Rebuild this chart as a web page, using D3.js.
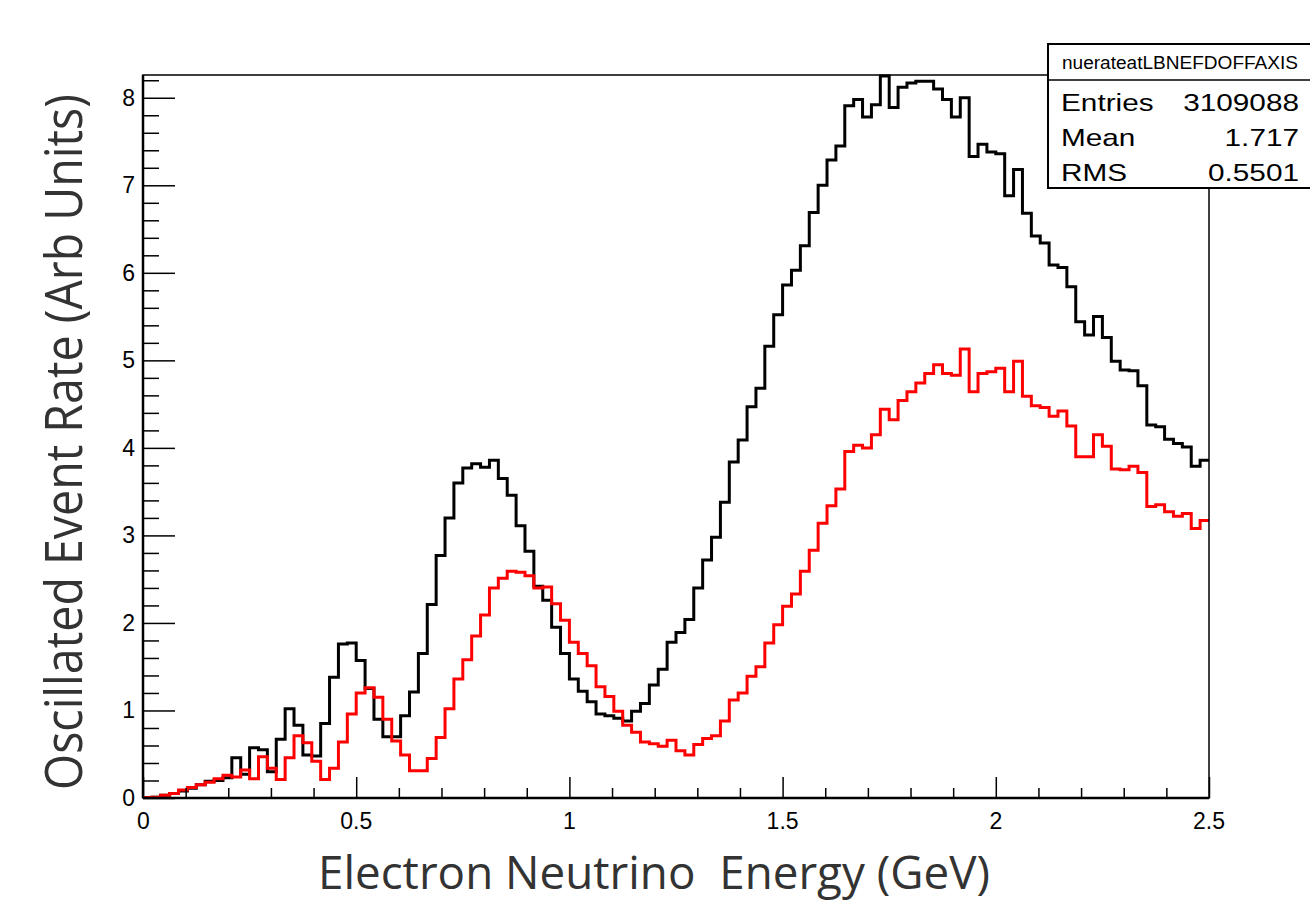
<!DOCTYPE html>
<html>
<head>
<meta charset="utf-8">
<script src="https://cdn.jsdelivr.net/npm/d3@7"></script>
<style>
  html, body { margin: 0; padding: 0; background: #fff; }
  svg { display: block; }
</style>
</head>
<body>
<svg id="chart" width="1310" height="905"></svg>
<script>
// ---- data (120 bins, 0 - 2.5 GeV) ----
const xMin = 0, xMax = 2.5, nBins = 120;
const blackValues = [
  0.005,0.01,0.03,0.05,0.08,0.11,0.15,0.19,0.20,0.23,
  0.46,0.27,0.575,0.55,0.30,0.67,1.02,0.83,0.49,0.48,
  0.85,1.38,1.76,1.77,1.57,1.25,0.90,0.70,0.70,0.94,
  1.21,1.65,2.21,2.77,3.20,3.60,3.77,3.82,3.78,3.86,
  3.65,3.46,3.11,2.82,2.42,2.26,1.95,1.65,1.36,1.22,
  1.10,0.96,0.94,0.91,0.88,0.99,1.08,1.29,1.47,1.78,
  1.89,2.04,2.40,2.72,2.98,3.38,3.84,4.09,4.47,4.68,
  5.16,5.52,5.86,6.03,6.31,6.69,7.00,7.29,7.45,7.91,
  7.98,7.78,7.92,8.25,7.89,8.12,8.17,8.19,8.19,8.10,
  7.98,7.78,8.00,7.33,7.47,7.38,7.36,6.88,7.18,6.68,
  6.42,6.34,6.09,6.06,5.84,5.44,5.29,5.50,5.26,4.99,
  4.89,4.88,4.71,4.26,4.24,4.10,4.05,4.01,3.79,3.86
];
const redValues = [
  0.005,0.01,0.03,0.05,0.09,0.12,0.15,0.18,0.22,0.26,
  0.24,0.32,0.22,0.47,0.34,0.21,0.46,0.71,0.63,0.42,
  0.21,0.34,0.64,0.96,1.20,1.26,1.15,0.90,0.65,0.49,
  0.31,0.31,0.45,0.69,1.02,1.36,1.58,1.85,2.09,2.40,
  2.51,2.59,2.58,2.54,2.40,2.41,2.22,2.03,1.78,1.65,
  1.51,1.27,1.16,0.99,0.83,0.75,0.64,0.62,0.59,0.66,
  0.54,0.49,0.61,0.68,0.71,0.88,1.12,1.20,1.39,1.50,
  1.77,1.98,2.19,2.33,2.59,2.83,3.14,3.34,3.53,3.96,
  4.03,4.00,4.15,4.44,4.32,4.54,4.64,4.74,4.85,4.95,
  4.85,4.83,5.13,4.64,4.85,4.87,4.91,4.64,4.99,4.59,
  4.48,4.46,4.36,4.42,4.25,3.90,3.90,4.15,4.02,3.76,
  3.75,3.79,3.72,3.33,3.35,3.27,3.22,3.25,3.08,3.17
];
const xTickValues = [0, 0.5, 1, 1.5, 2, 2.5];
const xTickLabels = ["0", "0.5", "1", "1.5", "2", "2.5"];
const yTickValues = [0, 1, 2, 3, 4, 5, 6, 7, 8];
const yTickLabels = ["0", "1", "2", "3", "4", "5", "6", "7", "8"];
const statsTitle = "nuerateatLBNEFDOFFAXIS";
const statsNames = ["Entries", "Mean", "RMS"];
const statsValues = ["3109088", "1.717", "0.5501"];
const xTitle = "Electron Neutrino  Energy (GeV)";
const yTitle = "Oscillated Event Rate (Arb Units)";

// ---- layout ----
const plotLeft = 143, plotRight = 1209, plotTop = 75, plotBottom = 798;
const yMaxDomain = 8.26;

const svg = d3.select("#chart");
const x = d3.scaleLinear().domain([xMin, xMax]).range([plotLeft, plotRight]);
const y = d3.scaleLinear().domain([0, yMaxDomain]).range([plotBottom, plotTop]);
const binW = (xMax - xMin) / nBins;

function histPoints(vals) {
  const pts = vals.map((v, i) => [xMin + i * binW, v]);
  pts.push([xMax, vals[vals.length - 1]]);
  return pts;
}
const line = d3.line().x(d => x(d[0])).y(d => y(d[1])).curve(d3.curveStepAfter);

// histograms
svg.append("path").datum(histPoints(blackValues))
  .attr("d", line).attr("fill", "none").attr("stroke", "#000")
  .attr("stroke-width", 3).attr("stroke-linejoin", "miter");
svg.append("path").datum(histPoints(redValues))
  .attr("d", line).attr("fill", "none").attr("stroke", "#ff0000")
  .attr("stroke-width", 3).attr("stroke-linejoin", "miter");

// frame
svg.append("rect").attr("x", plotLeft).attr("y", plotTop)
  .attr("width", plotRight - plotLeft).attr("height", plotBottom - plotTop)
  .attr("fill", "none").attr("stroke", "#000").attr("stroke-width", 1.5);
svg.append("line").attr("x1", plotLeft).attr("x2", plotRight).attr("y1", plotBottom).attr("y2", plotBottom)
  .attr("stroke", "#000").attr("stroke-width", 2.5);
svg.append("line").attr("x1", plotLeft).attr("x2", plotLeft).attr("y1", plotTop).attr("y2", plotBottom)
  .attr("stroke", "#000").attr("stroke-width", 2.5);

// x axis ticks (inside, upward)
const xAxis = d3.axisTop(x).tickValues(xTickValues).tickSize(21).tickFormat("");
const gx = svg.append("g").attr("transform", `translate(0,${plotBottom})`).call(xAxis);
const xMinor = d3.range(0, 2.5001, 0.1).filter(v => Math.abs(v / 0.5 - Math.round(v / 0.5)) > 1e-6);
const gxm = svg.append("g").attr("transform", `translate(0,${plotBottom})`)
  .call(d3.axisTop(x).tickValues(xMinor).tickSize(10).tickFormat(""));
[gx, gxm].forEach(g => { g.select(".domain").remove(); g.selectAll("line").attr("stroke", "#000").attr("stroke-width", 1.5); });

svg.append("g").selectAll("text").data(xTickValues).join("text")
  .attr("x", d => x(d)).attr("y", 829)
  .attr("text-anchor", (d, i) => i === 0 ? "start" : "middle")
  .attr("dx", (d, i) => i === 0 ? -6 : 0)
  .attr("font-family", "Liberation Sans, Arial, sans-serif").attr("font-size", 23)
  .attr("fill", "#000")
  .text((d, i) => xTickLabels[i]);

// y axis ticks (inside, rightward)
const yAxis = d3.axisRight(y).tickValues(yTickValues).tickSize(32).tickFormat("");
const gy = svg.append("g").attr("transform", `translate(${plotLeft},0)`).call(yAxis);
const yMinor = d3.range(0, 8.2501, 0.2).filter(v => Math.abs(v - Math.round(v)) > 1e-6);
const gym = svg.append("g").attr("transform", `translate(${plotLeft},0)`)
  .call(d3.axisRight(y).tickValues(yMinor).tickSize(16).tickFormat(""));
[gy, gym].forEach(g => { g.select(".domain").remove(); g.selectAll("line").attr("stroke", "#000").attr("stroke-width", 1.5); });

svg.append("g").selectAll("text").data(yTickValues).join("text")
  .attr("x", 135).attr("y", d => y(d) + 8)
  .attr("text-anchor", "end")
  .attr("font-family", "Liberation Sans, Arial, sans-serif").attr("font-size", 23)
  .attr("fill", "#000")
  .text((d, i) => yTickLabels[i]);

// axis titles
svg.append("text")
  .attr("x", 654).attr("y", 889)
  .attr("text-anchor", "middle")
  .style("white-space", "pre")
  .attr("font-family", "Open Sans, Noto Sans, sans-serif").attr("font-size", 45)
  .attr("fill", "#333")
  .attr("textLength", 672).attr("lengthAdjust", "spacingAndGlyphs")
  .text(xTitle);
svg.append("text")
  .attr("transform", "translate(82,442) rotate(-90)")
  .attr("text-anchor", "middle")
  .attr("font-family", "Open Sans, Noto Sans, sans-serif").attr("font-size", 51)
  .attr("fill", "#333")
  .attr("textLength", 696).attr("lengthAdjust", "spacingAndGlyphs")
  .text(yTitle);

// stats box
const bx = 1048, by = 44, bw = 266, bh = 144, sep = 80;
const sb = svg.append("g");
sb.append("rect").attr("x", bx).attr("y", by).attr("width", bw).attr("height", bh)
  .attr("fill", "#fff").attr("stroke", "#000").attr("stroke-width", 2);
sb.append("line").attr("x1", bx).attr("x2", bx + bw).attr("y1", sep).attr("y2", sep)
  .attr("stroke", "#000").attr("stroke-width", 1.5);
sb.append("text").attr("x", 1062).attr("y", 69)
  .attr("font-family", "Liberation Sans, Arial, sans-serif").attr("font-size", 17.5)
  .attr("textLength", 236).attr("lengthAdjust", "spacingAndGlyphs")
  .text(statsTitle);
const sx = 1.24;
sb.selectAll("text.n").data(statsNames).join("text").attr("class", "n")
  .attr("transform", (d, i) => `translate(1061,${111 + i * 35}) scale(${sx},1)`)
  .attr("font-family", "Liberation Sans, Arial, sans-serif").attr("font-size", 24)
  .text(d => d);
sb.selectAll("text.v").data(statsValues).join("text").attr("class", "v")
  .attr("transform", (d, i) => `translate(1299,${111 + i * 35}) scale(${sx},1)`)
  .attr("text-anchor", "end")
  .attr("font-family", "Liberation Sans, Arial, sans-serif").attr("font-size", 24)
  .text(d => d);
</script>
</body>
</html>
